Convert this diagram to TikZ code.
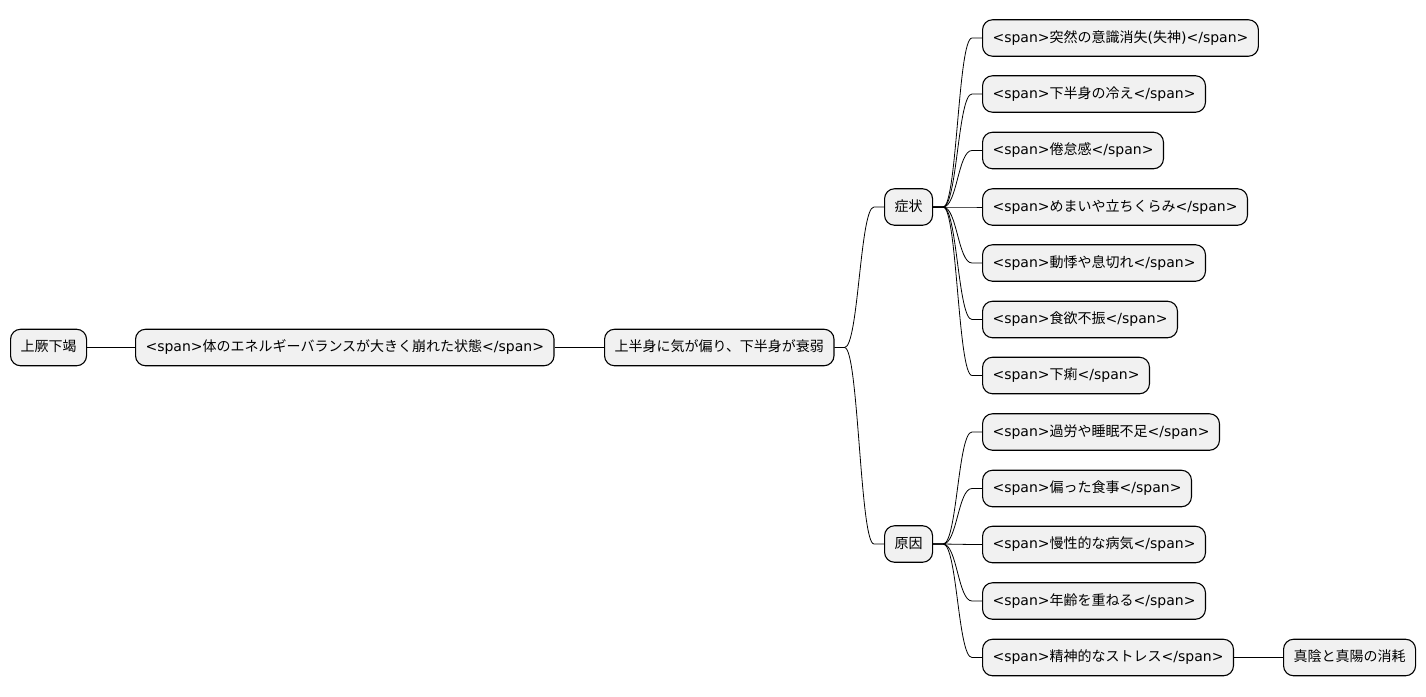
\documentclass[tikz,border=0pt]{standalone}
\usepackage{fontspec}
\setmainfont{Noto Sans CJK JP}
\newfontfamily\dv{DejaVu Sans}
\usetikzlibrary{calc}
\definecolor{boxfill}{HTML}{F1F1F1}
\tikzset{
  mm/.style={draw=black, line width=1.1pt, fill=boxfill, rounded corners=10pt,
    anchor=west, minimum height=36.5pt, inner xsep=10pt, inner ysep=2pt,
    font=\fontsize{14}{17}\selectfont, text height=11pt, text depth=3pt},
  link/.style={line width=0.8pt, black},
}
\newcommand\sps[1]{{\dv <span>}#1{\dv </span>}}
\newcommand\conn[2]{\draw[link] (#1.east) -- ++(10,0) .. controls +(14,0) and ($(#2.west)+(-24,0)$) .. ($(#2.west)+(-10,0)$) -- (#2.west);}
\begin{document}
\begin{tikzpicture}[x=1pt,y=-1pt]
\useasboundingbox (0,0) rectangle (1426,696);
\node[mm] (root) at (10,347.5) {上厥下竭};
\node[mm] (n1) at (135,347.5) {\sps{体のエネルギーバランスが大きく崩れた状態}};
\node[mm] (n2) at (604,347.5) {上半身に気が偏り、下半身が衰弱};
\node[mm] (sy) at (884,207) {症状};
\node[mm] (ca) at (884,544) {原因};
\node[mm] (s1) at (982,38) {\sps{突然の意識消失{\dv (}失神{\dv )}}};
\node[mm] (s2) at (982,94) {\sps{下半身の冷え}};
\node[mm] (s3) at (982,150.5) {\sps{倦怠感}};
\node[mm] (s4) at (982,207) {\sps{めまいや立ちくらみ}};
\node[mm] (s5) at (982,263) {\sps{動悸や息切れ}};
\node[mm] (s6) at (982,319.5) {\sps{食欲不振}};
\node[mm] (s7) at (982,375.5) {\sps{下痢}};
\node[mm] (c1) at (982,432) {\sps{過労や睡眠不足}};
\node[mm] (c2) at (982,488.5) {\sps{偏った食事}};
\node[mm] (c3) at (982,544.5) {\sps{慢性的な病気}};
\node[mm] (c4) at (982,601) {\sps{年齢を重ねる}};
\node[mm] (c5) at (982,657.5) {\sps{精神的なストレス}};
\node[mm] (c6) at (1283,657.5) {真陰と真陽の消耗};
\draw[link] (root) -- (n1);
\draw[link] (n1) -- (n2);
\conn{n2}{sy}
\conn{n2}{ca}
\foreach \c in {s1,s2,s3,s4,s5,s6,s7}{\conn{sy}{\c}}
\foreach \c in {c1,c2,c3,c4,c5}{\conn{ca}{\c}}
\draw[link] (c5) -- (c6);
\end{tikzpicture}
\end{document}
